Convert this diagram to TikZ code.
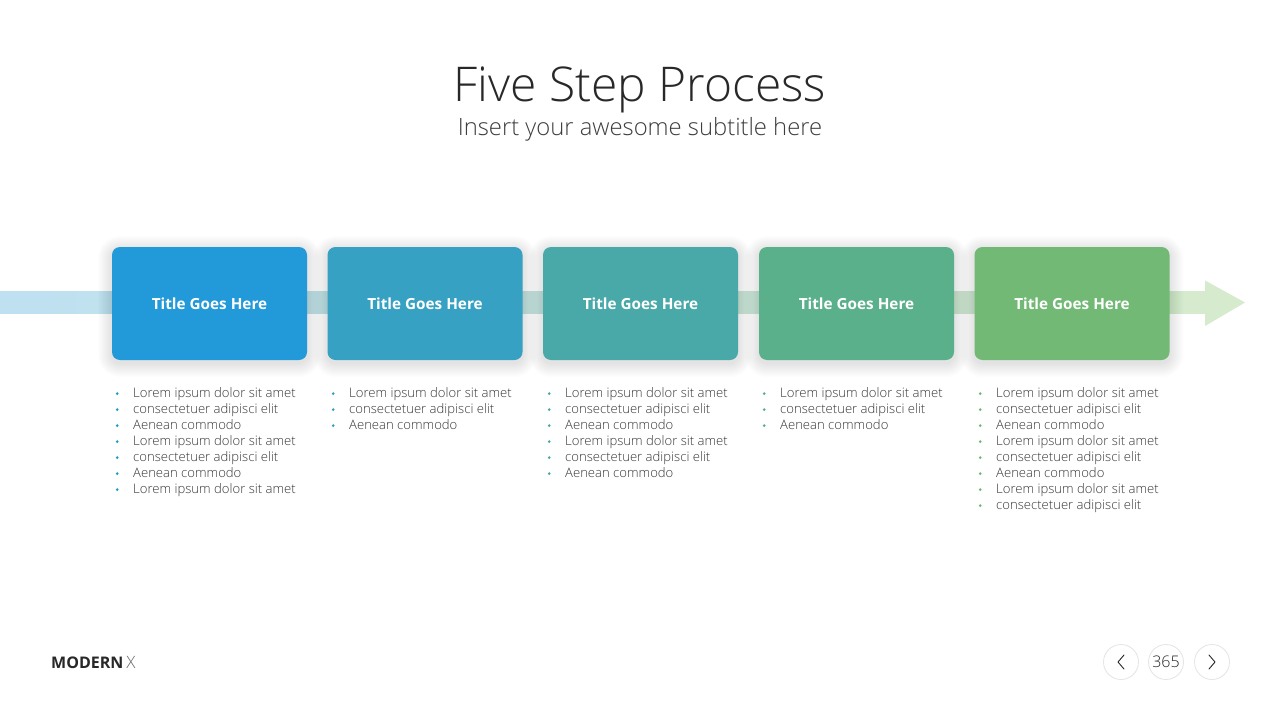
\documentclass[tikz,border=0pt]{standalone}
\usepackage{fontspec}
\setmainfont{Open Sans}
\newfontfamily\oslight{Open Sans Light}
\definecolor{cA}{RGB}{34,153,216}
\definecolor{cB}{RGB}{54,161,194}
\definecolor{cC}{RGB}{72,169,168}
\definecolor{cD}{RGB}{91,176,140}
\definecolor{cE}{RGB}{113,185,117}
\definecolor{bandL}{RGB}{190,224,241}
\definecolor{bandR}{RGB}{214,235,205}
\definecolor{txt}{RGB}{40,40,40}
\definecolor{bodytxt}{RGB}{55,55,55}
\definecolor{ring}{RGB}{228,228,228}
\newcommand{\bitem}[2]{\makebox[18pt][l]{\hspace{0.5pt}\raisebox{3.6pt}{\tikz[baseline=0pt]\fill[#1] (0pt,0pt) circle[radius=1.5pt];}}#2}
\begin{document}
\begin{tikzpicture}[x=1pt,y=-1pt,
  stepbox/.style={rounded corners=8pt, minimum width=195pt, minimum height=113pt,
    inner sep=0pt, text=white, font=\bfseries\fontsize{15.3}{18}\selectfont},
  softshadow/.style={fill=black, opacity=0.008},
  listbox/.style={anchor=north west, align=left, inner sep=0pt, text=bodytxt,
    font=\oslight\fontsize{13.1}{16}\selectfont},
  navc/.style={circle, draw=ring, line width=0.8pt, minimum size=35pt, inner sep=0pt},
  chev/.style={draw=txt, line width=0.9pt, line cap=round, line join=round}]
\useasboundingbox[fill=white] (0,0) rectangle (1280,720);
% titles
\node[anchor=base, text=txt, font=\oslight\fontsize{47.9}{52}\selectfont] (title) at (640,101) {Five Step Process};
\node[anchor=base, text=txt!90, font=\oslight\fontsize{23.8}{26}\selectfont] (subtitle) at (640,135) {Insert your awesome subtitle here};
% band and arrow
\shade[left color=bandL, right color=bandR] (0,291.5) rectangle (1206,313.5);
\fill[bandR] (1205,280.5) -- (1245,302.5) -- (1205,326) -- cycle;
% soft shadows
\foreach \cx in {209.5,425,640.5,856.5,1072}{
  \foreach \r in {1,...,14}{
    \pgfmathsetmacro\rr{8+\r}
    \fill[softshadow, rounded corners=\rr pt] (\cx-97.5-\r,247+3-\r) rectangle (\cx+97.5+\r,360+3+\r);
  }
}
% steps
\node[stepbox, fill=cA] (s1) at (209.5,303.5) {Title Goes Here};
\node[stepbox, fill=cB] (s2) at (425,303.5) {Title Goes Here};
\node[stepbox, fill=cC] (s3) at (640.5,303.5) {Title Goes Here};
\node[stepbox, fill=cD] (s4) at (856.5,303.5) {Title Goes Here};
\node[stepbox, fill=cE] (s5) at (1072,303.5) {Title Goes Here};
% lists
\node[listbox] (l1) at (115,387) {\bitem{cA}{Lorem ipsum dolor sit amet}\\\bitem{cA}{consectetuer adipisci elit}\\\bitem{cA}{Aenean commodo}\\\bitem{cA}{Lorem ipsum dolor sit amet}\\\bitem{cA}{consectetuer adipisci elit}\\\bitem{cA}{Aenean commodo}\\\bitem{cA}{Lorem ipsum dolor sit amet}};
\node[listbox] (l2) at (331,387) {\bitem{cB}{Lorem ipsum dolor sit amet}\\\bitem{cB}{consectetuer adipisci elit}\\\bitem{cB}{Aenean commodo}};
\node[listbox] (l3) at (547,387) {\bitem{cC}{Lorem ipsum dolor sit amet}\\\bitem{cC}{consectetuer adipisci elit}\\\bitem{cC}{Aenean commodo}\\\bitem{cC}{Lorem ipsum dolor sit amet}\\\bitem{cC}{consectetuer adipisci elit}\\\bitem{cC}{Aenean commodo}};
\node[listbox] (l4) at (762,387) {\bitem{cD}{Lorem ipsum dolor sit amet}\\\bitem{cD}{consectetuer adipisci elit}\\\bitem{cD}{Aenean commodo}};
\node[listbox] (l5) at (978,387) {\bitem{cE}{Lorem ipsum dolor sit amet}\\\bitem{cE}{consectetuer adipisci elit}\\\bitem{cE}{Aenean commodo}\\\bitem{cE}{Lorem ipsum dolor sit amet}\\\bitem{cE}{consectetuer adipisci elit}\\\bitem{cE}{Aenean commodo}\\\bitem{cE}{Lorem ipsum dolor sit amet}\\\bitem{cE}{consectetuer adipisci elit}};
% footer
\node[anchor=base west, inner sep=0pt, text=txt, font=\bfseries\fontsize{16}{16}\selectfont] (brand) at (51,668) {MODERN\hspace{3pt}{\mdseries\oslight\fontsize{17}{17}\selectfont\color{txt!70}X}};
\node[navc] (prev) at (1121,662) {};
\node[navc, text=txt, font=\oslight\fontsize{16}{16}\selectfont] (page) at (1166,662) {365};
\node[navc] (next) at (1212,662) {};
\draw[chev] ([xshift=3pt,yshift=7pt]prev.center) -- ([xshift=-3pt]prev.center) -- ([xshift=3pt,yshift=-7pt]prev.center);
\draw[chev] ([xshift=-3pt,yshift=7pt]next.center) -- ([xshift=3pt]next.center) -- ([xshift=-3pt,yshift=-7pt]next.center);
\end{tikzpicture}
\end{document}
